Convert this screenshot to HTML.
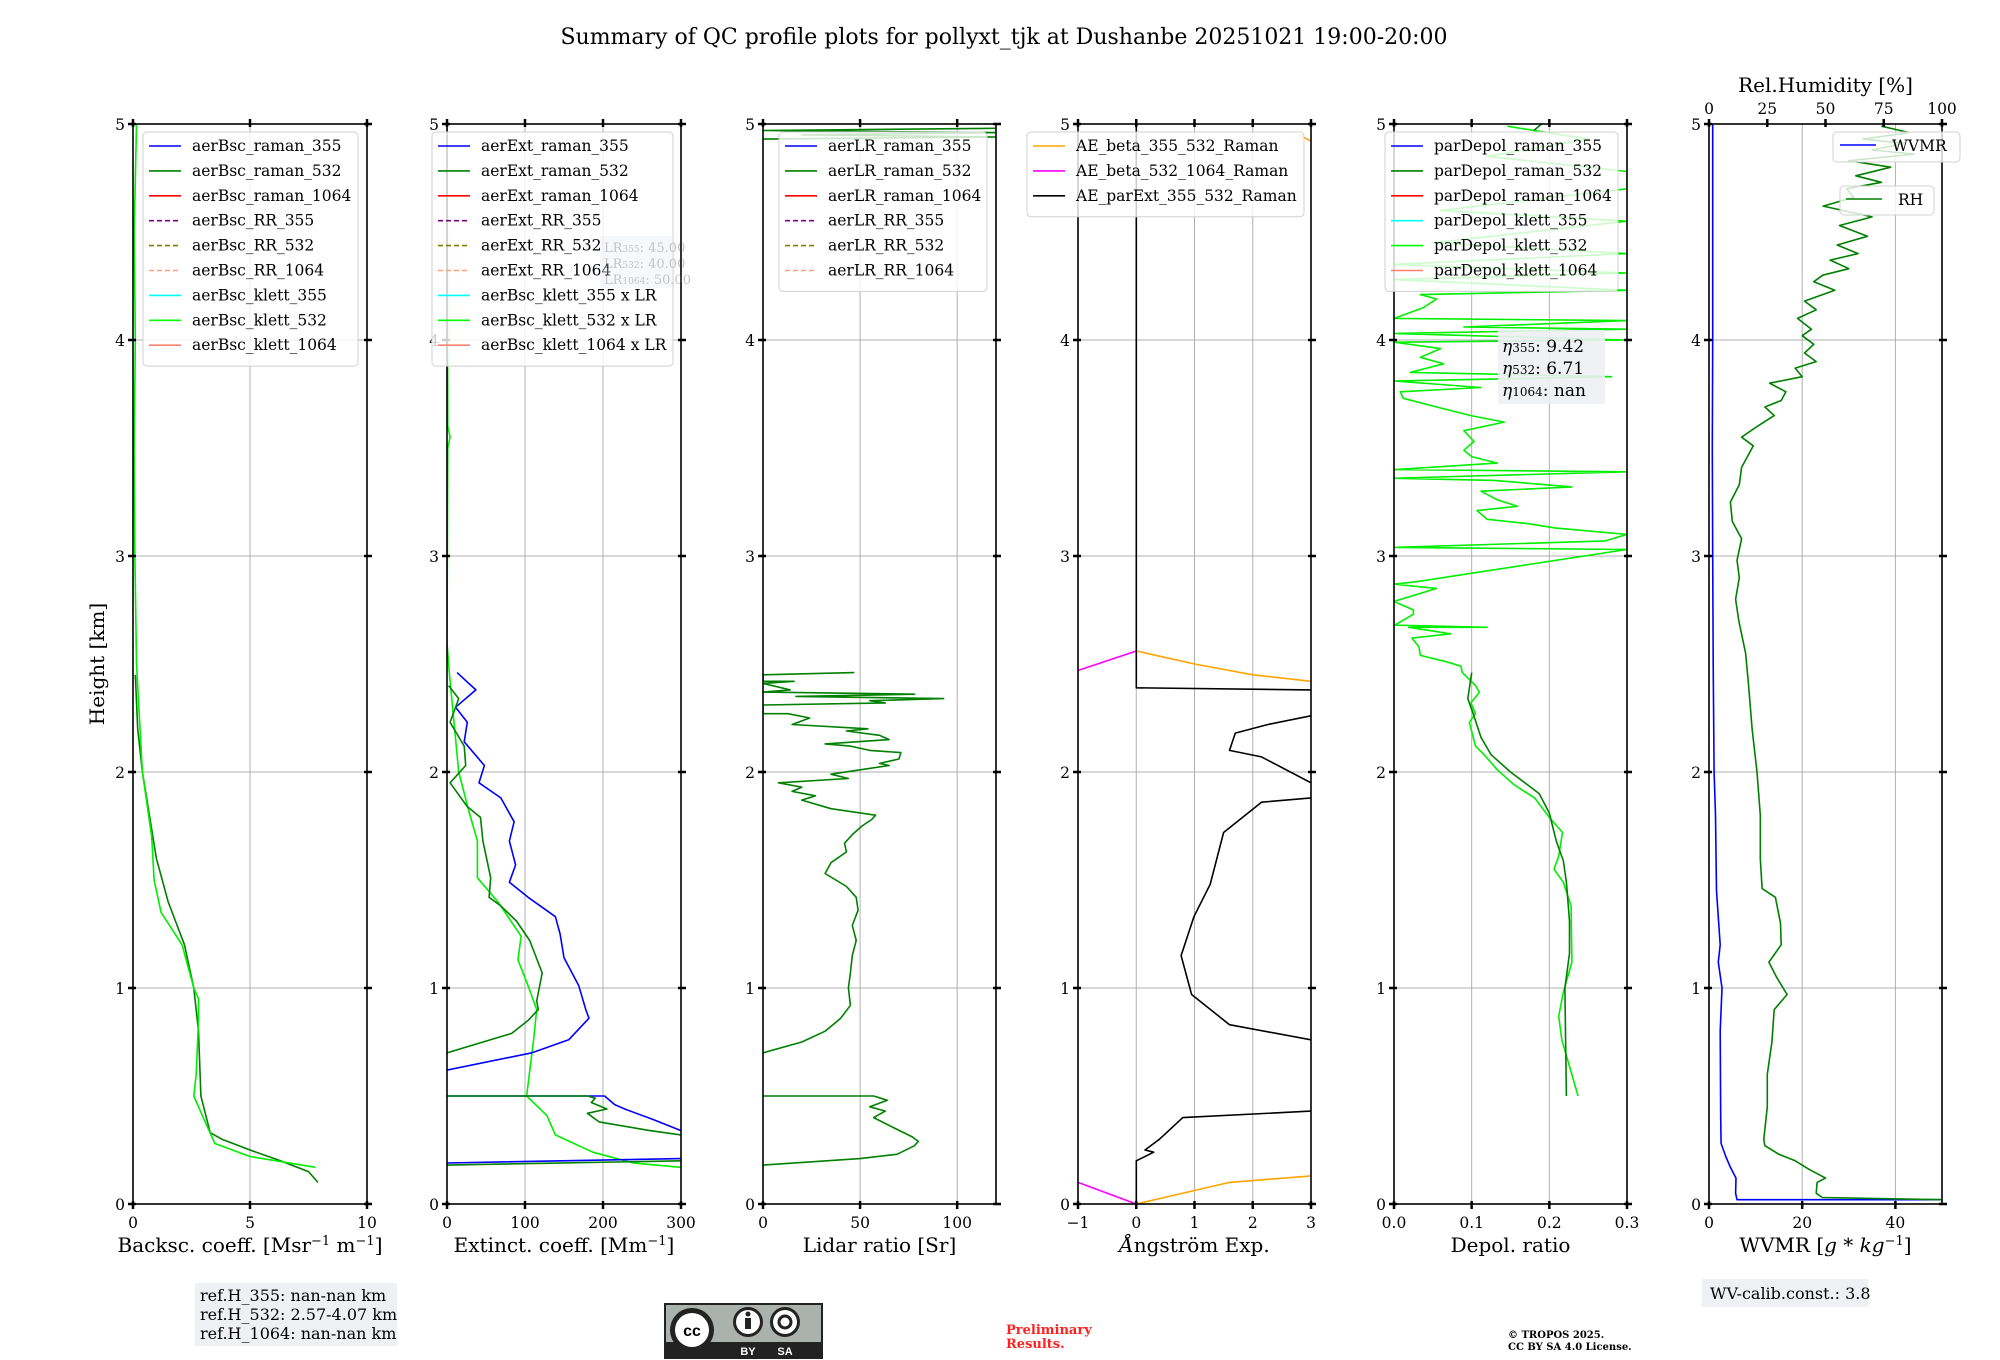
<!DOCTYPE html>
<html><head><meta charset="utf-8"><style>
html,body{margin:0;padding:0;background:#fff;}
svg{display:block;font-family:"DejaVu Serif","Liberation Serif",serif;}
</style></head><body>
<svg id="fig" width="2000" height="1360" viewBox="0 0 2000 1360" xmlns="http://www.w3.org/2000/svg">
<text x="1004" y="44" font-size="22" text-anchor="middle">Summary of QC profile plots for pollyxt_tjk at Dushanbe 20251021 19:00-20:00</text>
<text transform="translate(104,664) rotate(-90)" font-size="20" text-anchor="middle">Height [km]</text>
<g id="plots"></g>
<g opacity="0.35">
<rect x="600" y="236" width="75" height="52" fill="#e8ecf2"/>
<text x="604" y="252" font-size="13" fill="#555">LR<tspan font-size="9">355</tspan>: 45.00</text>
<text x="604" y="268" font-size="13" fill="#555">LR<tspan font-size="9">532</tspan>: 40.00</text>
<text x="604" y="284" font-size="13" fill="#555">LR<tspan font-size="9">1064</tspan>: 50.00</text>
</g>
<g>
<rect x="1498" y="330" width="107" height="74" fill="#eef0f4" opacity="0.9"/>
<text x="1502" y="352" font-size="17"><tspan font-style="italic">η</tspan><tspan font-size="12">355</tspan>: 9.42</text>
<text x="1502" y="374" font-size="17"><tspan font-style="italic">η</tspan><tspan font-size="12">532</tspan>: 6.71</text>
<text x="1502" y="396" font-size="17"><tspan font-style="italic">η</tspan><tspan font-size="12">1064</tspan>: nan</text>
</g>
<g>
<rect x="195" y="1283" width="202" height="63" fill="#eef0f4"/>
<text x="200" y="1301" font-size="16">ref.H_355: nan-nan km</text>
<text x="200" y="1320" font-size="16">ref.H_532: 2.57-4.07 km</text>
<text x="200" y="1339" font-size="16">ref.H_1064: nan-nan km</text>
</g>
<g>
<rect x="665" y="1304" width="157" height="54" fill="#abb1ad" stroke="#222" stroke-width="2"/>
<rect x="665" y="1342" width="157" height="16" fill="#222"/>
<circle cx="692" cy="1330" r="22" fill="#222"/><circle cx="692" cy="1330" r="17" fill="#fff"/>
<text x="692" y="1336" font-size="16" font-weight="bold" text-anchor="middle" font-family="Liberation Sans,sans-serif">cc</text>
<circle cx="748" cy="1322" r="15" fill="#222"/><circle cx="748" cy="1322" r="12" fill="#fff"/>
<circle cx="748" cy="1314" r="2.5" fill="#222"/><rect x="745" y="1318" width="6" height="11" fill="#222"/>
<circle cx="785" cy="1322" r="15" fill="#222"/><circle cx="785" cy="1322" r="12" fill="#fff"/>
<circle cx="785" cy="1322" r="6" fill="none" stroke="#222" stroke-width="3"/>
<text x="748" y="1355" font-size="11" fill="#fff" font-weight="bold" text-anchor="middle" font-family="Liberation Sans,sans-serif">BY</text>
<text x="785" y="1355" font-size="11" fill="#fff" font-weight="bold" text-anchor="middle" font-family="Liberation Sans,sans-serif">SA</text>
</g>
<text x="1006" y="1334" font-size="13" font-weight="bold" fill="#ff2020">Preliminary</text>
<text x="1006" y="1348" font-size="13" font-weight="bold" fill="#ff2020">Results.</text>
<text x="1508" y="1338" font-size="10" font-weight="bold">© TROPOS 2025.</text>
<text x="1508" y="1350" font-size="10" font-weight="bold">CC BY SA 4.0 License.</text>
<g>
<rect x="1702" y="1279" width="166" height="28" fill="#eef0f4"/>
<text x="1710" y="1299" font-size="16">WV-calib.const.: 3.8</text>
</g>
</svg>
<script>
const bscRaman532 = [[0.1,7.9],[0.15,7.5],[0.2,6.3],[0.25,5],[0.3,3.8],[0.33,3.3],[0.5,2.9],[0.8,2.8],[1.0,2.6],[1.2,2.2],[1.4,1.5],[1.6,1.0],[1.8,0.7],[2.0,0.4],[2.2,0.2],[2.45,0.1]];
const bscKlett532 = [[0.17,7.8],[0.22,5],[0.28,3.5],[0.4,3.0],[0.5,2.6],[0.6,2.7],[0.85,2.8],[0.95,2.8],[1.0,2.6],[1.2,2.1],[1.35,1.2],[1.5,0.9],[1.7,0.8],[2.0,0.4],[2.5,0.15],[3.0,0.08],[3.5,0.05],[4.0,0.1],[4.5,0.05],[5.0,0.15]];
const extRaman355 = [[0.19,0],[0.21,300],null,[0.34,300],[0.39,265],[0.44,228],[0.46,215],[0.5,202],[0.5,0],null,[0.62,0],[0.70,109],[0.76,156],[0.86,182],[0.90,178],[1.01,169],[1.14,150],[1.25,145],[1.33,139],[1.42,104],[1.49,80],[1.57,88],[1.68,80],[1.77,86],[1.88,69],[1.95,41],[2.03,48],[2.14,22],[2.23,26],[2.30,11],[2.38,37],[2.42,25],[2.46,13]];
const extRaman532 = [[0.18,0],[0.20,300],null,[0.32,300],[0.34,260],[0.38,195],[0.42,180],[0.44,205],[0.47,185],[0.49,190],[0.5,180],[0.5,0],null,[0.70,0],[0.79,83],[0.85,104],[0.90,117],[0.94,115],[1.07,122],[1.22,106],[1.31,89],[1.38,69],[1.42,54],[1.51,56],[1.68,46],[1.79,43],[1.84,26],[1.95,4],[2.03,24],[2.12,22],[2.23,4],[2.34,15],[2.40,2]];
const extKlett532 = [[0.17,300],[0.19,239],[0.24,187],[0.32,139],[0.41,128],[0.5,102],[0.76,111],[0.9,115],[1.01,104],[1.13,91],[1.24,95],[1.40,65],[1.51,39],[1.68,39],[1.82,28],[2.0,15],[2.23,9],[2.46,3],[2.6,0],[3.5,1],[3.55,4],[3.6,1],[5.0,0]];
const lrRaman532 = [[0.18,0],[0.21,50],[0.23,69],[0.27,78],[0.29,80],[0.31,77],[0.35,68],[0.40,57],[0.43,63],[0.45,55],[0.48,64],[0.5,57],[0.5,0],null,[0.70,0],[0.75,20],[0.80,32],[0.86,40],[0.92,45],[1.0,44],[1.07,45],[1.15,46],[1.22,48],[1.29,46],[1.36,49],[1.42,48],[1.47,43],[1.53,32],[1.58,35],[1.63,43],[1.67,42],[1.71,46],[1.75,51],[1.78,56],[1.80,58],[1.83,35],[1.87,20],[1.89,27],[1.91,15],[1.93,20],[1.95,8],[1.97,44],[1.99,35],[2.01,50],[2.03,65],[2.04,60],[2.06,70],[2.09,71],[2.10,55],[2.12,45],[2.13,32],[2.15,65],[2.17,60],[2.19,43],[2.20,54],[2.22,15],[2.25,24],[2.27,13],[2.27,0],[2.31,0],[2.32,63],[2.33,55],[2.34,93],[2.35,17],[2.36,78],[2.37,0],[2.38,14],[2.41,0],[2.42,16],[2.42,0],[2.45,0],[2.46,47],null,[4.93,0],[4.94,120],[4.95,20],[4.96,120],[4.97,0],[4.98,120]];
const aeBeta355532 = [[0,0],[0.1,1.6],[0.13,3],null,[2.56,0],[2.5,1],[2.45,2],[2.42,3],null,[4.95,2.8],[4.92,3]];
const aeBeta5321064 = [[0.1,-1],[0,0],null,[2.47,-1],[2.56,0]];
const aeParExt = [[0,0],[0.2,0],[0.24,0.3],[0.25,0.15],[0.3,0.4],[0.4,0.8],[0.43,3.0],null,[0.76,3],[0.83,1.6],[0.97,0.95],[1.15,0.77],[1.33,0.99],[1.48,1.27],[1.72,1.5],[1.86,2.15],[1.88,3],null,[1.95,3],[2.07,2.15],[2.1,1.6],[2.18,1.7],[2.22,2.26],[2.26,3],null,[2.38,3],[2.39,0],[5,0]];
const depRaman532 = [[0.5,0.222],[0.76,0.221],[1.0,0.22],[1.16,0.226],[1.31,0.226],[1.49,0.222],[1.59,0.218],[1.68,0.209],[1.81,0.2],[1.9,0.187],[2.0,0.15],[2.08,0.125],[2.16,0.112],[2.27,0.102],[2.34,0.095],[2.46,0.1],null,[4.97,0.18],[5.0,0.19]];
const depKlett532 = [[0.5,0.237],[0.76,0.216],[0.87,0.212],[0.98,0.218],[1.12,0.229],[1.38,0.228],[1.49,0.218],[1.55,0.206],[1.61,0.212],[1.72,0.217],[1.79,0.2],[1.88,0.181],[1.94,0.155],[2.01,0.133],[2.08,0.116],[2.12,0.105],[2.23,0.097],[2.27,0.105],[2.32,0.099],[2.37,0.11],[2.40,0.105],[2.46,0.088],[2.49,0.086],[2.51,0.068],[2.54,0.034],[2.58,0.032],[2.62,0.023],[2.64,0.073],[2.67,0.019],[2.67,0.12],[2.68,0.001],[2.73,0.025],[2.75,0.025],[2.79,0],[2.85,0.055],[2.87,0],[2.88,0.027],[3.03,0.3],[3.04,0],[3.07,0.272],[3.10,0.3],[3.13,0.207],[3.15,0.172],[3.17,0.12],[3.21,0.107],[3.23,0.159],[3.26,0.133],[3.30,0.112],[3.32,0.229],[3.35,0.129],[3.36,0],[3.39,0.3],[3.40,0],[3.43,0.133],[3.46,0.1],[3.49,0.09],[3.53,0.103],[3.58,0.09],[3.62,0.142],[3.65,0.099],[3.69,0.055],[3.73,0.012],[3.76,0.008],[3.78,0.112],[3.81,0],[3.83,0.28],[3.85,0.021],[3.89,0.064],[3.92,0.034],[3.96,0.06],[3.99,0],[4.0,0.3],[4.03,0],[4.05,0.3],[4.06,0.09],[4.09,0.3],[4.1,0],[4.15,0.038],[4.19,0.055],[4.21,0.034],[4.23,0.3],[4.28,0],[4.31,0.3],[4.35,0],[4.4,0.3],[4.45,0.05],[4.55,0.3],[4.6,0.06],[4.7,0.3],[4.78,0.3],[4.85,0.12],[4.93,0.25],[4.99,0.146]];
const wvmr = [[0.02,50],[0.02,6],[0.05,5.7],[0.12,5.8],[0.17,4.6],[0.22,3.6],[0.28,2.6],[0.4,2.5],[0.8,2.4],[1.0,2.8],[1.12,2.0],[1.2,2.4],[1.45,1.6],[1.8,1.4],[2.0,1.1],[2.5,0.9],[3.0,0.8],[3.5,0.7],[4.0,0.8],[4.5,0.8],[5.0,0.8]];
const rh = [[0.02,100],[0.03,48.6],[0.05,46],[0.1,46.4],[0.12,50],[0.16,43],[0.2,37],[0.23,30],[0.27,24],[0.3,23.5],[0.45,25],[0.6,25],[0.75,27],[0.9,28],[0.97,33.5],[1.05,29],[1.12,25.7],[1.2,31],[1.3,30.7],[1.42,28.5],[1.46,22.8],[1.6,22],[1.8,22],[2.0,20.6],[2.2,18.5],[2.4,17],[2.55,15.7],[2.7,12.8],[2.8,11.4],[2.9,13],[2.98,12],[3.08,14],[3.16,10],[3.25,9.2],[3.33,13],[3.41,14],[3.51,19],[3.55,14],[3.60,20.7],[3.65,28],[3.69,24],[3.72,31],[3.76,33],[3.8,26],[3.83,40],[3.87,37],[3.9,46],[3.94,41],[3.98,45],[4.02,40],[4.05,44],[4.1,38],[4.14,46],[4.18,41],[4.23,54],[4.27,45],[4.3,48.8],[4.33,60],[4.37,52],[4.4,64],[4.44,55],[4.48,68],[4.53,56],[4.57,70],[4.62,49],[4.66,62],[4.7,59],[4.73,74],[4.76,63],[4.8,78],[4.83,60],[4.86,88],[4.88,70],[4.91,84],[4.93,66],[4.96,86],[4.99,74]];

const Y0 = 1204, YT = 124, KM = (Y0 - YT) / 5;
const panels = [
 {id:'bsc', l:133, r:367, min:0, max:10, ticks:[0,5,10], xlabel:'Backsc. coeff. [Msr<tspan baseline-shift="super" font-size="13">−1</tspan> m<tspan baseline-shift="super" font-size="13">−1</tspan>]'},
 {id:'ext', l:447, r:681, min:0, max:300, ticks:[0,100,200,300], xlabel:'Extinct. coeff. [Mm<tspan baseline-shift="super" font-size="13">−1</tspan>]'},
 {id:'lr', l:763, r:996, min:0, max:120, ticks:[0,50,100], xlabel:'Lidar ratio [Sr]'},
 {id:'ae', l:1078, r:1311, min:-1, max:3, ticks:[-1,0,1,2,3], xlabel:'Ångström Exp.', italic:true},
 {id:'dep', l:1394, r:1627, min:0, max:0.3, ticks:[0,0.1,0.2,0.3], fmt:v=>v.toFixed(1), xlabel:'Depol. ratio'},
 {id:'wv', l:1709, r:1942, min:0, max:50, ticks:[0,20,40], xlabel:'WVMR [<tspan font-style="italic">g * kg</tspan><tspan baseline-shift="super" font-size="13">−1</tspan>]'}
];
const NS = 'http://www.w3.org/2000/svg';
const root = document.getElementById('plots');
function el(tag, attrs, parent){const e=document.createElementNS(NS,tag);for(const k in attrs)e.setAttribute(k,attrs[k]);(parent||root).appendChild(e);return e;}
function xs(p,v){return p.l+(v-p.min)/(p.max-p.min)*(p.r-p.l);}
function ys(h){return Y0-h*KM;}
function pathOf(p,data,swap,scaleMax){
 let d='',pen=false;
 for(const pt of data){ if(!pt){pen=false;continue;}
  const h=pt[0], v=pt[1];
  const x = scaleMax? p.l+v/scaleMax*(p.r-p.l) : xs(p,v);
  d+=(pen?'L':'M')+x.toFixed(1)+' '+ys(h).toFixed(1)+' '; pen=true;}
 return d;
}
const defs = el('defs',{});
panels.forEach((p,i)=>{
 const cp=el('clipPath',{id:'clip'+i},defs); el('rect',{x:p.l,y:YT,width:p.r-p.l,height:Y0-YT},cp);
 const g=el('g',{});
 
 
 p.ticks.forEach(t=>{ if(t===p.min||t===p.max) return; const x=xs(p,t);
  const gl=el('line',{x1:x,x2:x,y1:YT,y2:Y0,stroke:'#b0b0b0','stroke-width':1},g);
   });
 for(let k=1;k<5;k++){ const gl=el('line',{x1:p.l,x2:p.r,y1:ys(k),y2:ys(k),stroke:'#b0b0b0','stroke-width':1},g);
   }
 p.g=g; p.clip='url(#clip'+i+')';
});
function series(pi,data,color,name,width,scaleMax){
 const p=panels[pi];
 const s=el('path',{d:pathOf(p,data,false,scaleMax),fill:'none',stroke:color,'stroke-width':width||1.6,'clip-path':p.clip,'stroke-linejoin':'round'},p.g);
 
 
}
series(0,bscRaman532,'#008000','bsc-raman-532-line');
series(0,bscKlett532,'#00ee00','bsc-klett-532-line');
series(1,extKlett532,'#00ee00','ext-klett-532-line');
series(1,extRaman355,'#0000ff','ext-raman-355-line');
series(1,extRaman532,'#008000','ext-raman-532-line');
series(2,lrRaman532,'#008000','lr-raman-532-line');
series(3,aeBeta355532,'#ffa500','ae-beta-355-532-line');
series(3,aeBeta5321064,'#ff00ff','ae-beta-532-1064-line');
series(3,aeParExt,'#000000','ae-parext-355-532-line');
series(4,depKlett532,'#00ee00','depol-klett-532-line');
series(4,depRaman532,'#008000','depol-raman-532-line');
series(5,wvmr,'#0000ff','wvmr-line');
series(5,rh,'#008000','rh-line',1.6,100);

panels.forEach((p,i)=>{
 const g=p.g;
 const fr=el('rect',{x:p.l,y:YT,width:p.r-p.l,height:Y0-YT,fill:'none',stroke:'#000','stroke-width':1.6},g);
  
 for(let k=0;k<=5;k++){ const y=ys(k);
  el('line',{x1:p.l-5,x2:p.l+3,y1:y,y2:y,stroke:'#000','stroke-width':2.5},g);
  el('line',{x1:p.r-3,x2:p.r+5,y1:y,y2:y,stroke:'#000','stroke-width':2.5},g);
  const t=el('text',{x:p.l-8,y:y+6,'font-size':15.5,'text-anchor':'end'},g); t.textContent=k;
   
 }
 p.ticks.forEach(v=>{ const x=xs(p,v);
  el('line',{x1:x,x2:x,y1:Y0-3,y2:Y0+5,stroke:'#000','stroke-width':2.5},g);
  if(i!==5) el('line',{x1:x,x2:x,y1:YT-5,y2:YT+3,stroke:'#000','stroke-width':2.5},g);
  const t=el('text',{x:x,y:Y0+24,'font-size':15.5,'text-anchor':'middle'},g);
  t.textContent = p.fmt? p.fmt(v) : (v<0?'−'+(-v):String(v));
   
 });
 const xl=el('text',{x:(p.l+p.r)/2,y:1252,'font-size':20,'text-anchor':'middle'},g);
 xl.innerHTML = p.italic? '<tspan font-style="italic">Å</tspan>ngström Exp.' : p.xlabel;
  
});
const rhTicks=[0,25,50,75,100];
(function(){const p=panels[5];
 rhTicks.forEach(v=>{const x=p.l+v/100*(p.r-p.l);
  el('line',{x1:x,x2:x,y1:YT-5,y2:YT+3,stroke:'#000','stroke-width':2.5});
  const t=el('text',{x:x,y:YT-10,'font-size':15.5,'text-anchor':'middle'}); t.textContent=v;
   });
 const t=el('text',{x:(p.l+p.r)/2,y:92,'font-size':20,'text-anchor':'middle'}); t.textContent='Rel.Humidity [%]';
  
})();

const legBsc=['aerBsc_raman_355','aerBsc_raman_532','aerBsc_raman_1064','aerBsc_RR_355','aerBsc_RR_532','aerBsc_RR_1064','aerBsc_klett_355','aerBsc_klett_532','aerBsc_klett_1064'];
const legExt=['aerExt_raman_355','aerExt_raman_532','aerExt_raman_1064','aerExt_RR_355','aerExt_RR_532','aerExt_RR_1064','aerBsc_klett_355 x LR','aerBsc_klett_532 x LR','aerBsc_klett_1064 x LR'];
const legLR=['aerLR_raman_355','aerLR_raman_532','aerLR_raman_1064','aerLR_RR_355','aerLR_RR_532','aerLR_RR_1064'];
const legAE=['AE_beta_355_532_Raman','AE_beta_532_1064_Raman','AE_parExt_355_532_Raman'];
const legDep=['parDepol_raman_355','parDepol_raman_532','parDepol_raman_1064','parDepol_klett_355','parDepol_klett_532','parDepol_klett_1064'];
const col9=['#0000ff','#008000','#ff0000','#800080','#808000','#ffa07a','#00ffff','#00ff00','#fa8072'];
const dash9=[0,0,0,1,1,1,0,0,0];
const colDep=['#0000ff','#008000','#ff0000','#00ffff','#00ff00','#fa8072'];
function legend(x,y,w,labels,cols,dashes,name){
 const g=el('g',{});
 
 
 el('rect',{x:x,y:y,width:w,height:labels.length*24.9+10,rx:4,fill:'rgba(255,255,255,0.8)',stroke:'#d0d0d0'},g);
 labels.forEach((lb,k)=>{const yy=y+14+k*24.9;
  const ln=el('line',{x1:x+6,x2:x+38,y1:yy,y2:yy,stroke:cols[k],'stroke-width':1.6},g);
  if(dashes&&dashes[k]) ln.setAttribute('stroke-dasharray','5,3');
  const t=el('text',{x:x+49,y:yy+5,'font-size':15.5},g); t.textContent=lb;
   });
}
legend(143,132,215,legBsc,col9,dash9,'bsc-legend');
legend(432,132,241,legExt,col9,dash9,'ext-legend');
legend(779,132,208,legLR,col9,dash9,'lr-legend');
legend(1027,132,277,legAE,['#ffa500','#ff00ff','#000000'],null,'ae-legend');
legend(1385,132,233,legDep,colDep,null,'depol-legend');
(function(){
 const g1=el('g',{});  
 el('rect',{x:1833,y:132,width:127,height:30,rx:4,fill:'rgba(255,255,255,0.8)',stroke:'#d0d0d0'},g1);
 el('line',{x1:1840,x2:1876,y1:145,y2:145,stroke:'#0000ff','stroke-width':1.6},g1);
 const t1=el('text',{x:1892,y:151,'font-size':15.5},g1); t1.textContent='WVMR';
 const g2=el('g',{});  
 el('rect',{x:1840,y:186,width:94,height:29,rx:4,fill:'rgba(255,255,255,0.8)',stroke:'#d0d0d0'},g2);
 el('line',{x1:1846,x2:1882,y1:199,y2:199,stroke:'#008000','stroke-width':1.6},g2);
 const t2=el('text',{x:1898,y:205,'font-size':15.5},g2); t2.textContent='RH';
})();
</script>
</body></html>
